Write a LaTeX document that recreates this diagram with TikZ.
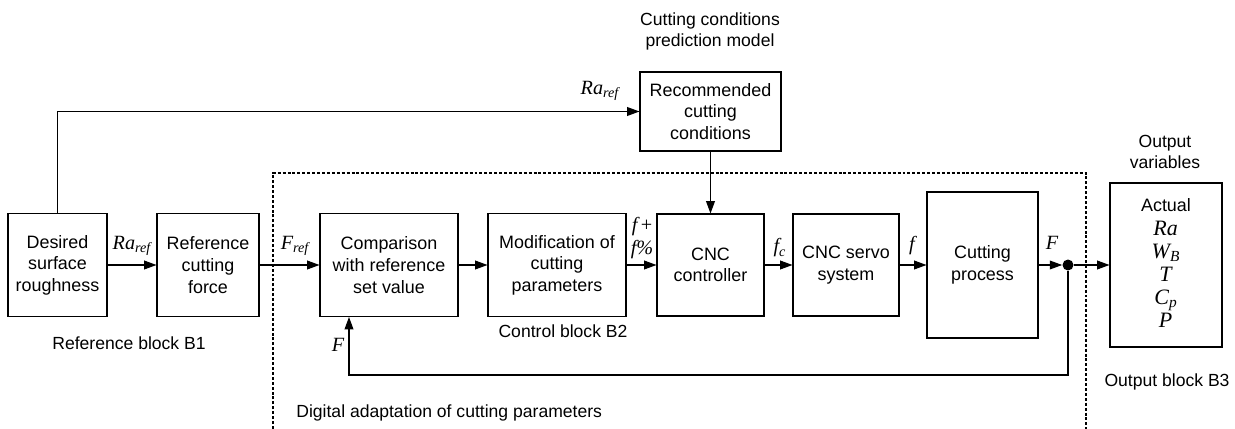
\documentclass[tikz,border=0pt]{standalone}
\usepackage{fontspec}
\setmainfont{Liberation Sans}
\newfontfamily\varfont{Liberation Serif}
\usetikzlibrary{arrows.meta}

% italic signal name with a subscript
\newcommand{\sig}[2]{{\varfont\itshape #1\textsubscript{#2}}}
% larger version for the output list
\newcommand{\ovar}[2]{{\fontsize{12.5}{13.2}\selectfont\sig{#1}{#2}}}

\tikzset{
  block/.style={draw, line width=0.6pt, align=center, inner sep=0pt,
    font=\fontsize{10.2}{12.3}\selectfont},
  sigline/.style={line width=0.6pt, -{Triangle[length=7pt,width=5pt]}},
  varlabel/.style={font=\fontsize{11.5}{13}\selectfont\varfont\itshape,
    inner sep=0pt, align=center},
  caption/.style={font=\fontsize{10}{12.3}\selectfont, align=center, inner sep=0pt},
  frame/.style={line width=0.9pt, dash pattern=on 1.7pt off 1.1pt}
}

\begin{document}
\begin{tikzpicture}  % ------ adaptive control loop ---------------
      [x=0.02cm,y=-0.02cm]
    \useasboundingbox (0,0) rectangle (1235,429);

    % blocks
    \node[block, minimum width=1.98cm, minimum height=2.06cm] (desired) at (57.5,265) {Desired\\surface\\roughness};
    \node[block, minimum width=2.04cm, minimum height=2.06cm] (refforce) at (208,265) {Reference\\cutting\\force};
    \node[block, minimum width=2.76cm, minimum height=2.06cm] (compare) at (389,265) {Comparison\\with reference\\set value};
    \node[block, minimum width=2.76cm, minimum height=2.06cm] (modify) at (557,265) {Modification of\\cutting\\parameters};
    \node[block, minimum width=2.82cm, minimum height=1.58cm] (recom) at (710.5,111.5) {Recommended\\cutting\\conditions};
    \node[block, minimum width=2.14cm, minimum height=2.04cm] (cnc) at (710.5,265) {CNC\\controller};
    \node[block, minimum width=2.12cm, minimum height=2.04cm] (servo) at (846,265) {CNC servo\\system};
    \node[block, minimum width=2.22cm, minimum height=2.92cm] (cutting) at (982.5,265) {Cutting\\process};
    \node[block, minimum width=2.24cm, minimum height=3.28cm,
          font=\fontsize{10.2}{13.2}\selectfont] (output) at (1166,265)
          {Actual\\\ovar{Ra}{}\\\ovar{W}{B}\\\ovar{T}{}\\\ovar{C}{p}\\\ovar{P}{}};
    \node[circle, fill, inner sep=0pt, minimum size=0.22cm] (tap) at (1068,265) {};
    \coordinate (fb) at (349,375);

    % connections
    \draw[sigline] (desired) -- (refforce);
    \draw[sigline] (refforce) -- (compare);
    \draw[sigline] (compare) -- (modify);
    \draw[sigline] (modify) -- (cnc);
    \draw[sigline] (cnc) -- (servo);
    \draw[sigline] (servo) -- (cutting);
    \draw[sigline] (cutting) -- (tap);
    \draw[sigline] (tap) -- (output);
    \draw[sigline] (desired.north) |- (recom.west);
    \draw[sigline] (recom) -- (cnc);
    \draw[sigline] (tap) |- (fb) -- (fb |- compare.south);

    % adaptation frame, open at the bottom
    \draw[frame] (273,429) -- (273,173) -- (1086,173) -- (1086,429);

    % signal names
    \node[varlabel] (laRa) at (132,246) {\sig{Ra}{ref}};
    \node[varlabel] (laRaTop) at (600,91) {\sig{Ra}{ref}};
    \node[varlabel] (laF) at (295,246) {\sig{F}{ref}};
    \node[varlabel] (laf) at (642,238) {f\,{\upshape +}\\f\%};
    \node[varlabel] (lafc) at (780,248) {\sig{f}{c}};
    \node[varlabel] (laff) at (912,246) {f};
    \node[varlabel] (laFo) at (1052,243) {F};
    \node[varlabel] (laFb) at (338,345) {F};

    % captions
    \node[caption] (capPred) at (710,31.5) {Cutting conditions\\prediction model};
    \node[caption] (capOutv) at (1165,152) {Output\\variables};
    \node[caption] (capB1) at (129,343) {Reference block B1};
    \node[caption] (capB2) at (563,331) {Control block B2};
    \node[caption] (capB3) at (1167,382) {Output block B3};
    \node[caption, anchor=west] (capDig) at (296,413) {Digital adaptation of cutting parameters};
\end{tikzpicture}
\end{document}
